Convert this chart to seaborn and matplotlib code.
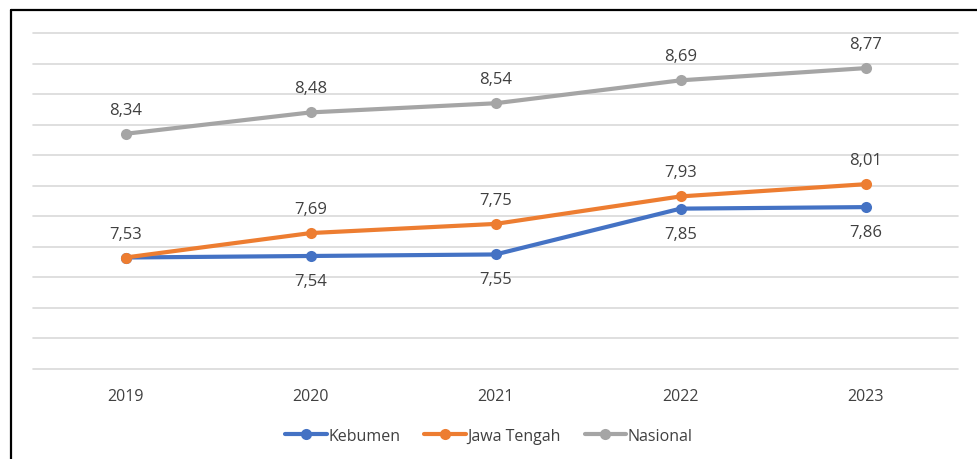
import matplotlib
matplotlib.use("Agg")
import matplotlib.pyplot as plt
import seaborn as sns
import pandas as pd
from matplotlib.lines import Line2D

years = ["2019", "2020", "2021", "2022", "2023"]
kebumen = [7.53, 7.54, 7.55, 7.85, 7.86]
jawa_tengah = [7.53, 7.69, 7.75, 7.93, 8.01]
nasional = [8.34, 8.48, 8.54, 8.69, 8.77]
series_names = ["Kebumen", "Jawa Tengah", "Nasional"]
colors = ["#4472C4", "#ED7D31", "#A5A5A5"]

sns.set_theme(style="white")
plt.rcParams["font.family"] = ["Open Sans", "DejaVu Sans"]

rows = []
for name, vals in zip(series_names, [kebumen, jawa_tengah, nasional]):
    for i, (y, v) in enumerate(zip(years, vals)):
        rows.append({"idx": i, "year": y, "value": v, "series": name})
df = pd.DataFrame(rows)

fig = plt.figure(figsize=(9.78, 4.6), dpi=100)
ax = fig.add_axes([33/978, 1-370/460, 925/978, 336/460])

sns.lineplot(data=df, x="idx", y="value", hue="series", palette=colors,
             hue_order=series_names, marker="o", markersize=8,
             markeredgewidth=0, linewidth=3, ax=ax, legend=False)

ax.set_xlim(-0.5, 4.5)
ax.set_ylim(6.8, 9.0)
ax.set_yticks([6.8 + 0.2*i for i in range(12)])
ax.set_yticklabels([])
ax.tick_params(axis="y", length=0)
ax.set_xticks(range(len(years)))
ax.set_xticklabels(years, fontsize=11.5, color="#404040")
ax.tick_params(axis="x", length=0, pad=14)
ax.set_xlabel("")
ax.set_ylabel("")
ax.grid(axis="y", color="#D9D9D9", linewidth=1.2)
for gl in ax.get_ygridlines():
    gl.set_clip_on(False)
ax.set_axisbelow(True)
for s in ["top", "right", "left", "bottom"]:
    ax.spines[s].set_visible(False)

def fmt(v):
    return f"{v:.2f}".replace(".", ",")

lab_kw = dict(textcoords="offset pixels", ha="center", va="center",
              fontsize=12, color="#404040")
for i, v in enumerate(nasional):
    ax.annotate(fmt(v), (i, v), xytext=(0, 24), **lab_kw)
for i, v in enumerate(jawa_tengah):
    ax.annotate(fmt(v), (i, v), xytext=(0, 24), **lab_kw)
for i, v in enumerate(kebumen):
    if i == 0:
        continue
    ax.annotate(fmt(v), (i, v), xytext=(0, -25), **lab_kw)

handles = [Line2D([0], [0], color=c, lw=3, marker="o", markersize=8,
                  markeredgewidth=0) for c in colors]
fig.legend(handles, series_names, loc="center", bbox_to_anchor=(0.5, 1-437/460),
           ncol=3, frameon=False, fontsize=11.5, handlelength=2.6,
           handletextpad=0.1, columnspacing=1.5, labelcolor="#404040")

# border (left and top)
fig.add_artist(Line2D([10.5/978, 10.5/978], [0, 1-11/460], color="black", lw=1.6,
                      transform=fig.transFigure))
fig.add_artist(Line2D([10.5/978, 1], [1-11/460, 1-11/460], color="black", lw=1.6,
                      transform=fig.transFigure))

fig.savefig("out.png", dpi=100, facecolor="white")
